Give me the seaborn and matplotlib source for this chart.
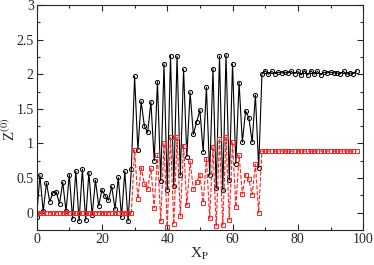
import numpy as np
import pandas as pd
import matplotlib
matplotlib.use("Agg")
import matplotlib.pyplot as plt
from matplotlib.ticker import MultipleLocator
import seaborn as sns

# values
xp = list(range(99))

z_black = [
    -0.06, 0.54, 0.02, 0.43, 0.16, 0.29, 0.30, 0.13, 0.44, 0.02,
    0.55, -0.09, 0.60, -0.12, 0.63, -0.11, 0.58, -0.04, 0.47, 0.10,
    0.33, 0.24, 0.18, 0.38, 0.05, 0.51, -0.06, 0.60, -0.12, 0.63,
    1.97, 0.91, 1.61, 1.25, 1.16, 1.60, 0.75, 1.89, 0.46, 2.15,
    0.33, 2.27, 0.38, 2.26, 0.54, 2.07, 0.81, 1.74, 1.13, 1.31,
    1.48, 0.88, 1.81, 0.54, 2.08, 0.35, 2.26, 0.33, 2.28, 0.47,
    2.15, 0.71, 1.88, 1.02, 1.47, 1.37, 1.02, 1.70, 0.65, 2.00,
    2.05, 2.00, 2.04, 2.01, 2.03, 2.02, 2.03, 2.02, 2.04, 2.01,
    2.04, 1.99, 2.05, 1.99, 2.05, 2.00, 2.04, 1.99, 2.03, 2.02,
    2.03, 2.02, 2.02, 2.01, 2.04, 2.00, 2.02, 2.01, 2.05,
]

z_red = [
    0.0, 0.0, 0.0, 0.0, 0.0, 0.0, 0.0, 0.0, 0.0, 0.0,
    0.0, 0.0, 0.0, 0.0, 0.0, 0.0, 0.0, 0.0, 0.0, 0.0,
    0.0, 0.0, 0.0, 0.0, 0.0, 0.0, 0.0, 0.0, 0.0, 0.0,
    0.90, 0.20, 0.65, 0.42, 0.34, 0.64, 0.07, 0.83, -0.12, 1.00,
    -0.20, 1.09, -0.17, 1.09, -0.05, 0.97, 0.11, 0.74, 0.34, 0.44,
    0.55, 0.14, 0.78, -0.08, 0.95, -0.19, 1.07, -0.18, 1.09, -0.10,
    1.02, 0.08, 0.83, 0.27, 0.55, 0.48, 0.26, 0.70, 0.00, 0.89,
    0.89, 0.89, 0.89, 0.89, 0.89, 0.89, 0.89, 0.89, 0.89, 0.89,
    0.89, 0.89, 0.89, 0.89, 0.89, 0.89, 0.89, 0.89, 0.89, 0.89,
    0.89, 0.89, 0.89, 0.89, 0.89, 0.89, 0.89, 0.89, 0.89,
]

df = pd.DataFrame({"xp": xp, "black": z_black, "red": z_red})

sns.set_style("ticks")
plt.rcParams["font.family"] = ["Liberation Serif", "DejaVu Serif"]
plt.rcParams["mathtext.fontset"] = "stix"

fig = plt.figure(figsize=(3.74, 2.65), dpi=100)
ax = fig.add_axes([0.098, 0.132, 0.873, 0.849])

sns.lineplot(data=df, x="xp", y="black", ax=ax, color="black",
             linewidth=0.8, marker="o", markersize=3,
             markerfacecolor="none", markeredgecolor="black",
             markeredgewidth=0.7)
sns.lineplot(data=df, x="xp", y="red", ax=ax, color="#ff2020",
             linewidth=0.8, linestyle="--", marker="s", markersize=2.6,
             markerfacecolor="none", markeredgecolor="#ff2020",
             markeredgewidth=0.7)

ax.set_xlim(0, 100)
ax.set_ylim(-0.25, 3)
ax.xaxis.set_major_locator(MultipleLocator(20))
ax.xaxis.set_minor_locator(MultipleLocator(10))
ax.yaxis.set_major_locator(MultipleLocator(0.5))
ax.yaxis.set_minor_locator(MultipleLocator(0.25))
ax.tick_params(which="both", direction="in", top=True, right=True,
               labelsize=10, pad=2)
ax.tick_params(which="major", length=4, width=0.8)
ax.tick_params(which="minor", length=2, width=0.8)
ax.set_yticklabels(["0" if t == 0 else f"{t:g}" for t in ax.get_yticks()])
for s in ax.spines.values():
    s.set_linewidth(0.8)

ax.set_xlabel(r"X$_\mathrm{P}$", fontsize=11, labelpad=0)
ax.set_ylabel(r"Z$^{(0)}$", fontsize=11)
ax.yaxis.set_label_coords(-0.058, 0.45)

fig.savefig("out.png", dpi=100)
